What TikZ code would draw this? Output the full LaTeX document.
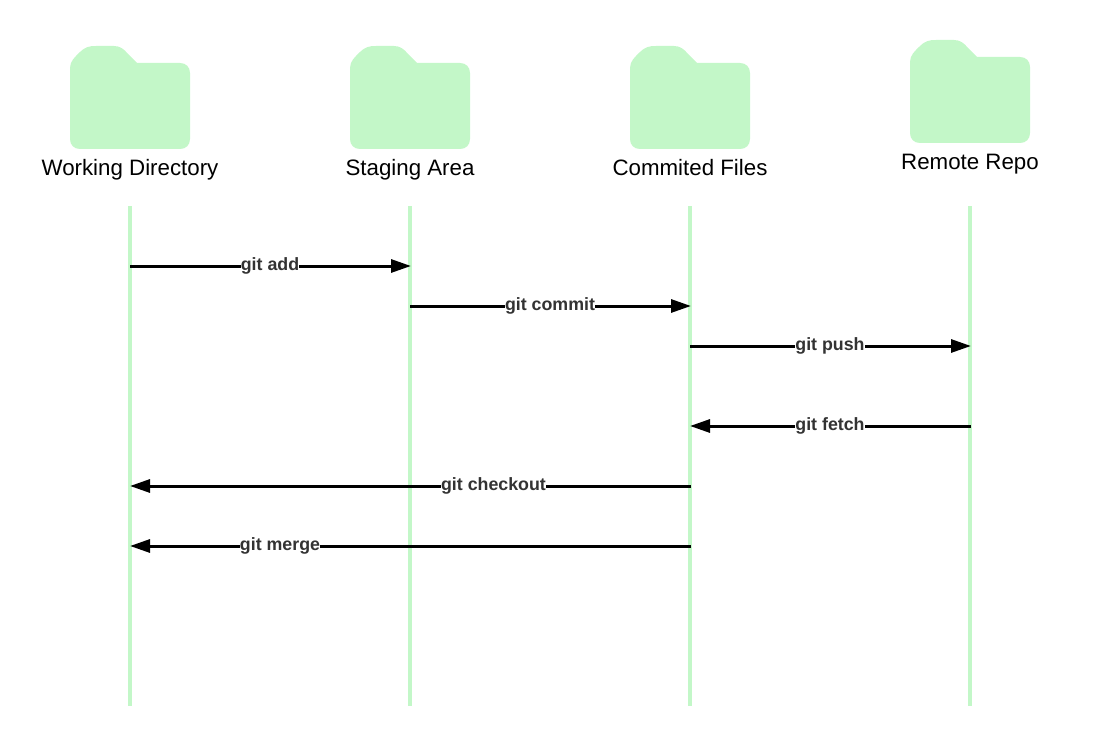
\documentclass[tikz,border=0pt]{standalone}
\usepackage{fontspec}
\setmainfont{Liberation Sans}
\usetikzlibrary{arrows.meta}
\definecolor{mint}{HTML}{C3F7C8}
\definecolor{labelgrey}{HTML}{333333}
\tikzset{
  x=1pt,y=-1pt,
  foldershape/.style={fill=mint,draw=none},
  lifeline/.style={draw=mint,line width=4pt},
  msg/.style={draw=black,line width=3pt,-{Triangle[length=20pt,width=13pt]},shorten >=-1pt},
  head/.style={font=\fontsize{22.3}{26}\selectfont,text=black,inner sep=0pt,anchor=base},
  msglabel/.style={font=\fontsize{17.8}{21}\selectfont\bfseries,text=labelgrey,fill=white,inner xsep=0pt,inner ysep=1pt,anchor=base},
  pics/folder/.style={code={
    \path[foldershape] (0,22) .. controls (0,15) and (5,11) .. (10,6)
      .. controls (15,1) and (19,0) .. (26,0) -- (44,0)
      .. controls (50,0) and (54,3) .. (58,8) -- (67,17) -- (110,17)
      .. controls (116,17) and (120,21) .. (120,27) -- (120,93)
      .. controls (120,99) and (116,103) .. (110,103) -- (10,103)
      .. controls (4,103) and (0,99) .. (0,93) -- cycle;
  }}
}
\begin{document}
\begin{tikzpicture}
\useasboundingbox (0,0) rectangle (1100,746);
\pic at (70,46) {folder};
\pic at (350,46) {folder};
\pic at (630,46) {folder};
\pic at (910,40) {folder};
\node[head] (hw) at (130,176) {Working Directory};
\node[head] (hs) at (410,176) {Staging Area};
\node[head] (hc) at (690,176) {Commited Files};
\node[head] (hr) at (970,170) {Remote Repo};
\foreach \n/\x in {w/130,s/410,c/690,r/970}{
  \coordinate (\n top) at (\x,206);
  \coordinate (\n bot) at (\x,706);
  \draw[lifeline] (\n top) -- (\n bot);
}
\coordinate (a1) at (130,266); \coordinate (a2) at (410,266);
\coordinate (b1) at (410,306); \coordinate (b2) at (690,306);
\coordinate (c1) at (690,346); \coordinate (c2) at (970,346);
\coordinate (d1) at (971,426); \coordinate (d2) at (690,426);
\coordinate (e1) at (691,486); \coordinate (e2) at (130,486);
\coordinate (f1) at (691,546); \coordinate (f2) at (130,546);
\draw[msg] (a1) -- (a2);
\draw[msg] (b1) -- (b2);
\draw[msg] (c1) -- (c2);
\draw[msg,shorten >=0pt] (d1) -- (d2);
\draw[msg,shorten >=0pt] (e1) -- (e2);
\draw[msg,shorten >=0pt] (f1) -- (f2);
\node[msglabel] (ladd) at (270,270) {git add};
\node[msglabel] (lcommit) at (550,310) {git commit};
\node[msglabel] (lpush) at (830,350) {git push};
\node[msglabel] (lfetch) at (830,430) {git fetch};
\node[msglabel] (lcheckout) at (493.5,490) {git checkout};
\node[msglabel] (lmerge) at (280,550) {git merge};
\end{tikzpicture}
\end{document}
